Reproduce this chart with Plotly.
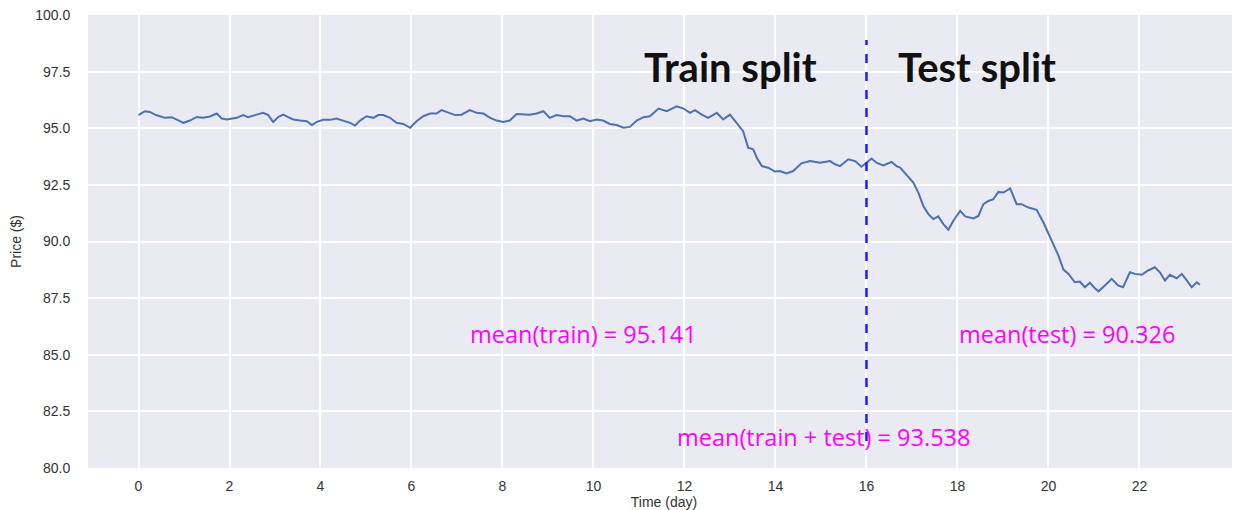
import plotly.graph_objects as go

# ---- data ----
days = [0.00, 0.14, 0.25, 0.36, 0.47, 0.58, 0.73, 0.84, 0.99, 1.13, 1.28, 1.42, 1.57, 1.72, 1.83, 1.94,
        2.05, 2.16, 2.30, 2.41, 2.56, 2.74, 2.85, 2.96, 3.07, 3.18, 3.29, 3.40, 3.55, 3.70, 3.81, 3.92,
        4.06, 4.21, 4.35, 4.50, 4.65, 4.76, 4.87, 5.01, 5.16, 5.27,
        5.38, 5.53, 5.67, 5.82, 5.97, 6.11, 6.26, 6.41, 6.55, 6.66, 6.81, 6.96, 7.10, 7.28, 7.43, 7.58,
        7.73, 7.87, 8.02, 8.16, 8.31, 8.46, 8.60, 8.75, 8.90, 9.04, 9.19, 9.34, 9.48, 9.63, 9.78, 9.92,
        10.07, 10.21, 10.36, 10.51,
        10.66, 10.80, 10.95, 11.10, 11.24, 11.43, 11.61, 11.83, 11.98, 12.12, 12.23, 12.38, 12.52, 12.71,
        12.85, 13.00, 13.15, 13.29, 13.40, 13.51, 13.59, 13.70, 13.84, 13.99, 14.10, 14.24, 14.39, 14.57,
        14.76, 14.98, 15.20, 15.31, 15.42, 15.60, 15.75,
        15.89, 16.00, 16.11, 16.22, 16.37, 16.55, 16.66, 16.74, 16.92, 17.03, 17.14, 17.25, 17.36, 17.47,
        17.58, 17.69, 17.80, 17.91, 18.06, 18.17, 18.35, 18.46, 18.57, 18.68, 18.79, 18.90, 19.01, 19.16,
        19.30, 19.41, 19.56, 19.74, 19.89,
        19.99, 20.10, 20.22, 20.33, 20.44, 20.58, 20.69, 20.80, 20.91, 21.02, 21.10, 21.24, 21.39, 21.53,
        21.64, 21.79, 21.90, 22.05, 22.19, 22.34, 22.45, 22.56, 22.67, 22.82, 22.93, 23.04, 23.15, 23.26, 23.33]

price = [95.58, 95.75, 95.72, 95.60, 95.53, 95.46, 95.49, 95.37, 95.24, 95.34, 95.50, 95.46, 95.52, 95.65, 95.43, 95.39,
         95.43, 95.46, 95.58, 95.49, 95.58, 95.68, 95.58, 95.28, 95.49, 95.60, 95.49, 95.39, 95.34, 95.31, 95.14, 95.28,
         95.37, 95.37, 95.43, 95.34, 95.24, 95.12, 95.34, 95.53, 95.46, 95.58,
         95.58, 95.46, 95.24, 95.19, 95.02, 95.31, 95.53, 95.65, 95.65, 95.80, 95.68, 95.58, 95.60, 95.80, 95.68, 95.65,
         95.46, 95.34, 95.28, 95.34, 95.63, 95.60, 95.60, 95.65, 95.75, 95.46, 95.58, 95.53, 95.53, 95.34, 95.43, 95.31,
         95.39, 95.34, 95.19, 95.14,
         95.02, 95.06, 95.34, 95.49, 95.53, 95.87, 95.75, 95.97, 95.87, 95.68, 95.80, 95.60, 95.46, 95.68,
         95.39, 95.60, 95.24, 94.87, 94.14, 94.07, 93.70, 93.33, 93.26, 93.09, 93.11, 93.00, 93.11, 93.45,
         93.55, 93.48, 93.55, 93.41, 93.33, 93.63, 93.55,
         93.30, 93.48, 93.66, 93.48, 93.36, 93.51, 93.33, 93.26, 92.82, 92.60, 92.16, 91.57, 91.21, 90.99,
         91.11, 90.77, 90.52, 90.92, 91.35, 91.11, 91.02, 91.13, 91.65, 91.79, 91.87, 92.19, 92.16, 92.34,
         91.65, 91.65, 91.50, 91.40, 90.84,
         90.40, 89.96, 89.38, 88.76, 88.57, 88.20, 88.23, 87.98, 88.18, 87.94, 87.80, 88.06, 88.35, 88.06,
         87.98, 88.64, 88.57, 88.53, 88.72, 88.86, 88.64, 88.28, 88.53, 88.38, 88.57, 88.28, 87.98, 88.20, 88.09]

split_day = 16
split_span = [81.19, 98.90]
x_ticks = [0, 2, 4, 6, 8, 10, 12, 14, 16, 18, 20, 22]
y_ticks = [80.0, 82.5, 85.0, 87.5, 90.0, 92.5, 95.0, 97.5, 100.0]
mean_train, mean_test, mean_all = 95.141, 90.326, 93.538

fig = go.Figure()
fig.add_trace(go.Scatter(x=days, y=price, mode="lines",
                         line=dict(color="#4C72B0", width=2), showlegend=False, hoverinfo="skip"))
fig.add_trace(go.Scatter(x=[split_day, split_day], y=split_span, mode="lines",
                         line=dict(color="#1f1fee", width=2.5, dash="dash"), showlegend=False, hoverinfo="skip"))

big = dict(family="Lato, 'Open Sans', sans-serif", size=40, color="#111111")
mag = dict(family="'Open Sans', Lato, sans-serif", size=23.5, color="#FF00FF")
ann = [
    dict(x=13.02, y=97.70, text="<b>Train split</b>", font=big),
    dict(x=18.43, y=97.70, text="<b>Test split</b>", font=big),
    dict(x=9.79, y=85.92, text=f"mean(train) = {mean_train:.3f}", font=mag),
    dict(x=20.41, y=85.92, text=f"mean(test) = {mean_test:.3f}", font=mag),
    dict(x=15.05, y=81.37, text=f"mean(train + test) = {mean_all:.3f}", font=mag),
]
for a in ann:
    fig.add_annotation(xref="x", yref="y", showarrow=False, xanchor="center", yanchor="middle", **a)

tickfont = dict(family="'Liberation Sans', Arial, sans-serif", size=14, color="#333333")
fig.update_layout(
    width=1232, height=502,
    margin=dict(l=80, r=0, t=7, b=42),
    paper_bgcolor="white", plot_bgcolor="#EAEAF2",
    xaxis=dict(range=[-1.11, 24.21], tickvals=x_ticks, ticktext=[str(v) for v in x_ticks],
               showgrid=True, gridcolor="white", gridwidth=1.5, zeroline=False, showline=False,
               ticks="outside", ticklen=5, tickcolor="rgba(0,0,0,0)", tickfont=tickfont,
               ticklabeloverflow="allow",
               title=dict(text="Time (day)", font=tickfont, standoff=1)),
    yaxis=dict(range=[80, 100], tickvals=y_ticks, ticktext=[f"{v:.1f}" for v in y_ticks],
               showgrid=True, gridcolor="white", gridwidth=1.5, zeroline=False, showline=False,
               ticks="outside", ticklen=14, tickcolor="rgba(0,0,0,0)", tickfont=tickfont,
               ticklabeloverflow="allow",
               title=dict(text="Price ($)", font=tickfont, standoff=16)),
)
fig.write_html("out.html")
